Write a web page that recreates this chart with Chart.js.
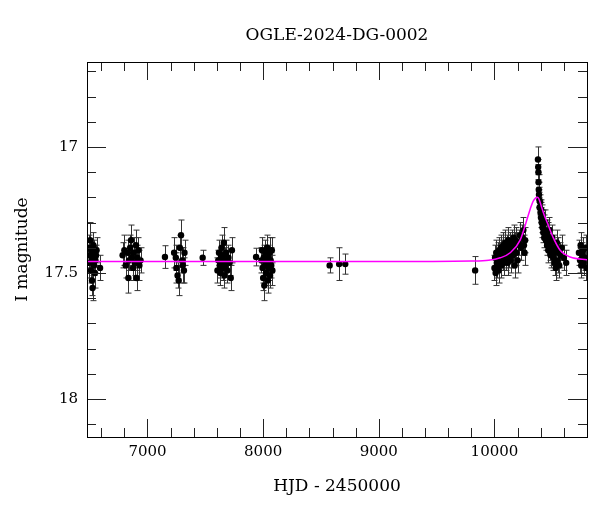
<!DOCTYPE html>
<html>
<head>
<meta charset="utf-8">
<script src="https://cdn.jsdelivr.net/npm/chart.js@4/dist/chart.umd.min.js"></script>
<style>
  html, body { margin: 0; padding: 0; background: #fff; }
  #wrap { width: 600px; height: 512px; }
</style>
</head>
<body>
<div id="wrap"><canvas id="lc"></canvas></div>
<script>
var hjd = [
  6490, 6495, 6500, 6505, 6510, 6512, 6518, 6520, 6525, 6528, 6532, 6538, 6540, 6545, 6550, 6555, 6560, 6590,
  6785, 6800, 6812, 6830, 6835, 6840, 6850, 6858, 6865, 6875, 6880, 6890, 6900, 6905, 6912, 6920, 6930, 6940,
  7151,
  7230, 7245, 7250, 7260, 7270, 7280, 7290, 7300, 7305, 7315, 7320,
  7477,
  7605, 7612, 7618, 7625, 7630, 7635, 7640, 7645, 7650, 7655, 7660, 7665, 7670, 7675, 7680, 7690, 7700, 7710, 7720, 7730,
  7939,
  7985, 7990, 7995, 8000, 8005, 8010, 8015, 8020, 8025, 8030, 8035, 8040, 8045, 8050, 8055, 8060, 8065, 8070, 8075, 8080,
  8575, 8657, 8710, 9833,
  10000, 10005, 10010, 10015, 10020, 10025, 10030, 10035, 10040, 10045, 10050, 10055, 10060, 10065, 10070, 10075,
  10080, 10085, 10090, 10095, 10100, 10105, 10110, 10115, 10120, 10125, 10130, 10135, 10140, 10145, 10150, 10155,
  10160, 10165, 10170, 10175, 10180, 10185, 10190, 10200, 10210, 10220, 10230, 10240, 10250, 10255, 10260, 10265,
  10376, 10378, 10380, 10381, 10383, 10385,
  10388, 10390, 10395, 10398, 10402, 10405, 10408, 10412, 10415, 10418, 10422, 10425, 10430, 10435, 10440, 10445,
  10450, 10455, 10460, 10465, 10470, 10475, 10480, 10485, 10490, 10495, 10500, 10510, 10515, 10520, 10525, 10530,
  10540, 10545, 10550, 10560, 10570, 10580, 10600, 10620,
  10730, 10740, 10745, 10750, 10760, 10765, 10770, 10780, 10790, 10795
];
var mag = [
  17.40, 17.46, 17.43, 17.37, 17.49, 17.41, 17.45, 17.53, 17.56, 17.44, 17.39, 17.47, 17.42, 17.50, 17.45, 17.43, 17.41, 17.48,
  17.43, 17.41, 17.47, 17.42, 17.52, 17.45, 17.40, 17.37, 17.44, 17.48, 17.42, 17.46, 17.39, 17.52, 17.44, 17.41, 17.47, 17.45,
  17.437,
  17.42, 17.44, 17.48, 17.51, 17.53, 17.40, 17.35, 17.45, 17.47, 17.49, 17.42,
  17.44,
  17.49, 17.45, 17.42, 17.47, 17.50, 17.44, 17.40, 17.46, 17.48, 17.43, 17.38, 17.51, 17.45, 17.47, 17.42, 17.49, 17.44, 17.46, 17.52, 17.41,
  17.437,
  17.45, 17.41, 17.48, 17.52, 17.44, 17.55, 17.47, 17.42, 17.50, 17.46, 17.40, 17.53, 17.44, 17.48, 17.42, 17.51, 17.45, 17.47, 17.41, 17.49,
  17.47, 17.465, 17.465, 17.49,
  17.48, 17.44, 17.50, 17.42, 17.46, 17.47, 17.43, 17.49, 17.41, 17.45, 17.44, 17.40, 17.47, 17.42, 17.45, 17.39,
  17.43, 17.46, 17.41, 17.38, 17.44, 17.42, 17.40, 17.46, 17.37, 17.43, 17.41, 17.39, 17.45, 17.42, 17.38, 17.40,
  17.43, 17.36, 17.41, 17.47, 17.39, 17.37, 17.42, 17.45, 17.38, 17.35, 17.40, 17.36, 17.33, 17.39, 17.42, 17.37,
  17.05, 17.08, 17.10, 17.14, 17.17, 17.19,
  17.21, 17.24, 17.22, 17.26, 17.28, 17.25, 17.30, 17.27, 17.32, 17.29, 17.34, 17.31, 17.36, 17.33, 17.30, 17.37,
  17.34, 17.39, 17.35, 17.41, 17.37, 17.33, 17.40, 17.43, 17.38, 17.42, 17.36, 17.44, 17.40, 17.46, 17.42, 17.48,
  17.38, 17.45, 17.41, 17.47, 17.43, 17.40, 17.44, 17.46,
  17.42, 17.45, 17.39, 17.47, 17.43, 17.41, 17.46, 17.44, 17.40, 17.48
];
var magErr = [
  0.05, 0.06, 0.05, 0.07, 0.05, 0.04, 0.05, 0.06, 0.05, 0.05, 0.05, 0.04, 0.05, 0.06, 0.05, 0.04, 0.05, 0.05,
  0.05, 0.06, 0.05, 0.05, 0.06, 0.04, 0.05, 0.06, 0.05, 0.05, 0.06, 0.05, 0.06, 0.05, 0.05, 0.05, 0.06, 0.05,
  0.045,
  0.06, 0.05, 0.06, 0.05, 0.06, 0.05, 0.06, 0.05, 0.07, 0.05, 0.05,
  0.03,
  0.05, 0.04, 0.05, 0.05, 0.05, 0.04, 0.05, 0.05, 0.05, 0.04, 0.06, 0.05, 0.05, 0.04, 0.05, 0.05, 0.05, 0.05, 0.05, 0.05,
  0.035,
  0.05, 0.05, 0.06, 0.05, 0.05, 0.06, 0.05, 0.05, 0.05, 0.06, 0.05, 0.05, 0.05, 0.05, 0.06, 0.05, 0.05, 0.05, 0.05, 0.06,
  0.03, 0.065, 0.04, 0.055,
  0.05, 0.05, 0.05, 0.05, 0.04, 0.05, 0.05, 0.05, 0.05, 0.04, 0.05, 0.05, 0.05, 0.05, 0.04, 0.05,
  0.05, 0.05, 0.05, 0.05, 0.05, 0.04, 0.05, 0.05, 0.05, 0.05, 0.05, 0.05, 0.05, 0.04, 0.05, 0.05,
  0.05, 0.05, 0.05, 0.05, 0.05, 0.05, 0.05, 0.05, 0.05, 0.05, 0.05, 0.05, 0.05, 0.04, 0.05, 0.05,
  0.05, 0.03, 0.03, 0.03, 0.03, 0.03,
  0.03, 0.03, 0.03, 0.04, 0.04, 0.04, 0.04, 0.04, 0.04, 0.04, 0.04, 0.04, 0.04, 0.04, 0.05, 0.04,
  0.05, 0.04, 0.05, 0.05, 0.05, 0.05, 0.05, 0.05, 0.05, 0.05, 0.05, 0.05, 0.05, 0.05, 0.05, 0.05,
  0.05, 0.05, 0.05, 0.05, 0.05, 0.05, 0.05, 0.05,
  0.05, 0.05, 0.05, 0.05, 0.05, 0.05, 0.05, 0.05, 0.05, 0.05
];

// model curve (magenta)
var modelHjd = [6475, 8000, 9000, 9800, 9950, 10050, 10136, 10222, 10283, 10310, 10335, 10355, 10370, 10385, 10405, 10430, 10456, 10508, 10568, 10655, 10810];
var modelMag = [17.455, 17.455, 17.455, 17.453, 17.450, 17.44, 17.42, 17.37, 17.285, 17.245, 17.215, 17.203, 17.200, 17.207, 17.235, 17.27, 17.30, 17.36, 17.41, 17.437, 17.448];

// axis ticks and range
var xLabelTicks = [7000, 8000, 9000, 10000];
var yLabelTicks = [17, 17.5, 18];
var xRange = [6477, 10800];
var yRange = [16.663, 18.151];

var serif = "'DejaVu Serif', serif";

// error bars drawn under the points
var errorBars = {
  id: 'errorBars',
  beforeDatasetsDraw: function(chart) {
    var ctx = chart.ctx, a = chart.chartArea;
    var x = chart.scales.x, y = chart.scales.y;
    ctx.save();
    ctx.beginPath();
    ctx.rect(a.left, a.top, a.right - a.left, a.bottom - a.top);
    ctx.clip();
    ctx.strokeStyle = '#333';
    ctx.lineWidth = 1;
    for (var i = 0; i < hjd.length; i++) {
      var px = Math.round(x.getPixelForValue(hjd[i])) + 0.5;
      var y1 = y.getPixelForValue(mag[i] - magErr[i]);
      var y2 = y.getPixelForValue(mag[i] + magErr[i]);
      ctx.beginPath();
      ctx.moveTo(px, y1); ctx.lineTo(px, y2);
      ctx.moveTo(px - 3, y1); ctx.lineTo(px + 3, y1);
      ctx.moveTo(px - 3, y2); ctx.lineTo(px + 3, y2);
      ctx.stroke();
    }
    ctx.restore();
  }
};

// box frame with inward ticks on all four sides
var frameTicks = {
  id: 'frameTicks',
  afterDraw: function(chart) {
    var ctx = chart.ctx, a = chart.chartArea;
    var x = chart.scales.x, y = chart.scales.y;
    ctx.save();
    ctx.strokeStyle = '#222';
    ctx.lineWidth = 1;
    ctx.beginPath();
    for (var t = 6600; t <= xRange[1]; t += 200) {
      var px = Math.round(x.getPixelForValue(t)) + 0.5;
      var len = (t % 1000 === 0) ? 18 : 9;
      ctx.moveTo(px, a.bottom); ctx.lineTo(px, a.bottom - len);
      ctx.moveTo(px, a.top); ctx.lineTo(px, a.top + len);
    }
    for (var k = 167; k <= 181; k++) {
      var m = k / 10;
      var py = Math.round(y.getPixelForValue(m)) + 0.5;
      var ylen = (k % 5 === 0) ? 19 : 9;
      ctx.moveTo(a.left, py); ctx.lineTo(a.left + ylen, py);
      ctx.moveTo(a.right, py); ctx.lineTo(a.right - ylen, py);
    }
    ctx.stroke();
    ctx.strokeStyle = '#000';
    ctx.strokeRect(Math.round(a.left) + 0.5, Math.round(a.top) + 0.5,
      Math.round(a.right - a.left), Math.round(a.bottom - a.top));
    ctx.restore();
  }
};

Chart.defaults.color = '#000';
Chart.defaults.font.family = serif;

new Chart(document.getElementById('lc'), {
  type: 'scatter',
  data: {
    datasets: [
      {
        label: 'model',
        type: 'line',
        data: modelHjd.map(function(t, i) { return { x: t, y: modelMag[i] }; }),
        borderColor: '#ff00ff',
        borderWidth: 1.5,
        pointRadius: 0,
        fill: false,
        cubicInterpolationMode: 'monotone',
        order: 0
      },
      {
        label: 'OGLE I',
        data: hjd.map(function(t, i) { return { x: t, y: mag[i] }; }),
        backgroundColor: '#000',
        borderColor: '#000',
        pointRadius: 3.2,
        borderWidth: 0,
        order: 1
      }
    ]
  },
  options: {
    responsive: true,
    maintainAspectRatio: false,
    animation: false,
    events: [],
    layout: { padding: { left: 0, right: 13, top: 0, bottom: 0 } },
    plugins: {
      legend: { display: false },
      tooltip: { enabled: false },
      title: {
        display: true,
        text: 'OGLE-2024-DG-0002',
        fullSize: false,
        font: { family: serif, size: 17, weight: 'normal' },
        color: '#000',
        padding: { top: 25, bottom: 16.6 }
      }
    },
    scales: {
      x: {
        type: 'linear',
        min: xRange[0],
        max: xRange[1],
        afterBuildTicks: function(s) { s.ticks = xLabelTicks.map(function(v) { return { value: v }; }); },
        afterFit: function(s) { s.height = 75; },
        grid: { display: false, drawTicks: false },
        border: { display: false },
        ticks: {
          font: { size: 15 },
          padding: 6,
          maxRotation: 0,
          callback: function(v) { return String(v); }
        },
        title: {
          display: true,
          text: 'HJD - 2450000',
          font: { size: 17 },
          padding: { top: 0, bottom: 15 }
        }
      },
      y: {
        type: 'linear',
        reverse: true,
        min: yRange[0],
        max: yRange[1],
        afterBuildTicks: function(s) { s.ticks = yLabelTicks.map(function(v) { return { value: v }; }); },
        afterFit: function(s) { s.width = 87; },
        grid: { display: false, drawTicks: false },
        border: { display: false },
        ticks: {
          font: { size: 15 },
          padding: 9,
          callback: function(v) { return String(v); }
        },
        title: {
          display: true,
          text: 'I magnitude',
          font: { size: 17 },
          padding: { top: 12, bottom: 0 }
        }
      }
    }
  },
  plugins: [errorBars, frameTicks]
});
</script>
</body>
</html>
